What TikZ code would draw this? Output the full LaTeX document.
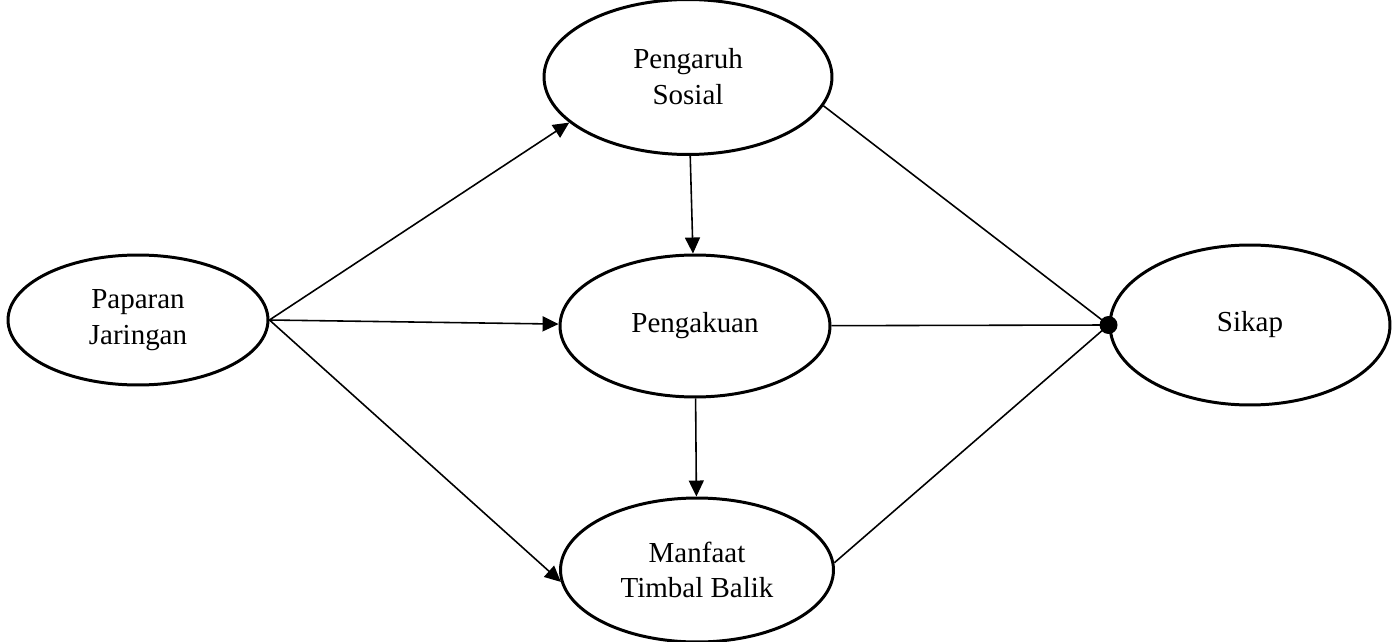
\documentclass[tikz,border=0pt]{standalone}
\usepackage{fontspec}
\setmainfont{Liberation Serif}
\usetikzlibrary{shapes.geometric,arrows.meta}

\begin{document}
\begin{tikzpicture}[x=0.02cm,y=-0.02cm,->,>={Triangle[length=0.32cm,width=0.3cm]},
  line width=0.9pt,
  konsep/.style={ellipse,draw,line width=1.7pt,inner sep=0pt,align=center,
    font=\fontsize{16.5}{20.4}\selectfont}]
   \useasboundingbox (0,0) rectangle (1400,642);
   \node[konsep,minimum width=5.2cm,minimum height=2.6cm] (Paparan) at (138,320) {Paparan\\Jaringan};
   \node[konsep,minimum width=5.76cm,minimum height=3.1cm] (Pengaruh) at (688,77) {Pengaruh\\Sosial};
   \node[konsep,minimum width=5.4cm,minimum height=2.84cm] (Pengakuan) at (695,326) {Pengakuan};
   \node[konsep,minimum width=5.46cm,minimum height=2.88cm] (Manfaat) at (697,570) {Manfaat\\Timbal Balik};
   \node[konsep,minimum width=5.6cm,minimum height=3.2cm] (Sikap) at (1250,325) {Sikap};
   \coordinate (simpul) at (Sikap.west);
    \path
    (Paparan.east) edge (Pengaruh.201)
          edge (Pengakuan)
          edge (Manfaat.185)
    (Pengaruh) edge (Pengakuan)
    (Pengakuan) edge (Manfaat)
    (Pengaruh.348) edge[-] (simpul)
    (Pengakuan) edge[-] (simpul)
    (Manfaat.3) edge[-] (simpul);
   \fill (simpul) circle (0.18cm);
\end{tikzpicture}
\end{document}
